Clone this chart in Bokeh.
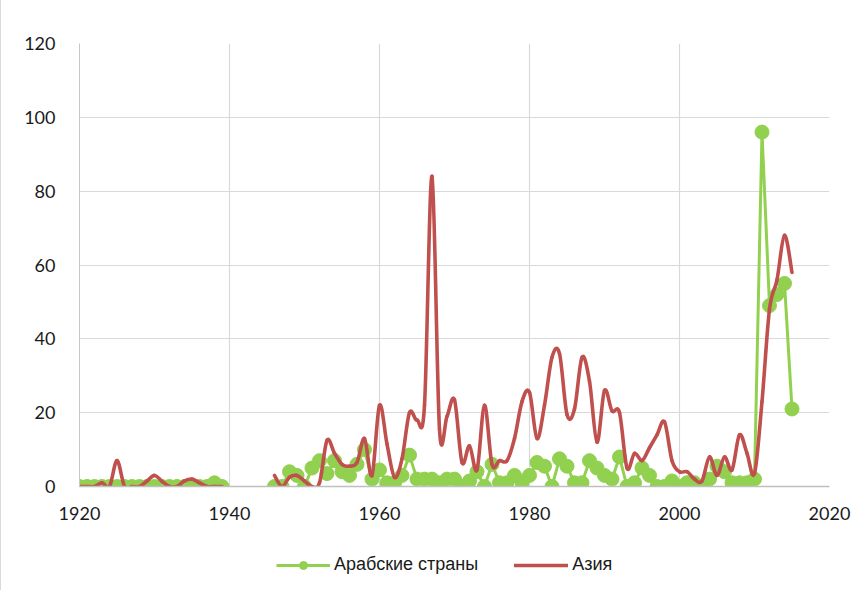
import numpy as np
from bokeh.plotting import figure
from bokeh.layouts import column
from bokeh.models import Legend, LegendItem, FixedTicker, Range1d
from bokeh.embed import file_html
from bokeh.resources import INLINE

# ---- data ----
years_early = list(range(1920, 1940))
years_late = list(range(1946, 2016))

arab_early = [0, 0, 0, 0, 0, 0, 0, 0, 0, 0,
              0, 0, 0, 0, 0, 0, 0, 0, 1, 0]
asia_early = [0, 0, 0, 1, 0, 7, 0, 0, 0, 1.5,
              3, 1.4, 0, 0, 1.5, 2, 1, 0, 0, 0]

arab_late = [0, 0, 4, 3, 0, 5, 7, 3.5, 7, 4,          # 1946-1955
             3, 6, 10, 2, 4.5, 1, 1, 3, 8.5, 2,        # 1956-1965
             2, 2, 1, 2, 2, 0, 1.5, 4, 0, 6,           # 1966-1975
             1, 1, 3, 1, 3, 6.5, 5.5, 0, 7.5, 5.5,     # 1976-1985
             1, 1, 7, 5, 3, 2, 8, 0, 1, 5,             # 1986-1995
             3, 0, 0, 1.5, 0, 1, 1, 0, 2, 5.5,         # 1996-2005
             4, 1, 1, 1, 2, 96, 49, 52, 55, 21]        # 2006-2015
asia_late = [3, 0, 2.5, 3, 1.5, 0, 1, 12.5, 9, 6,      # 1946-1955
             5.5, 6.5, 13, 3, 22, 11.5, 2.5, 7.5, 20, 18,   # 1956-1965
             22, 84, 15.5, 19, 23.5, 6.5, 11, 4.5, 22, 6,   # 1966-1975
             7, 7, 13, 23, 25.5, 13, 22, 35, 36, 19.5,      # 1976-1985
             21, 35, 28.5, 12, 26, 20.5, 20, 5, 9, 7,       # 1986-1995
             10.5, 14, 17.5, 7, 4, 4, 2, 1.5, 8, 3,         # 1996-2005
             8, 4.5, 14, 9, 3.5, 23, 48, 56, 68, 58]        # 2006-2015

x_ticks = [1920, 1940, 1960, 1980, 2000, 2020]
y_ticks = [0, 20, 40, 60, 80, 100, 120]

GREEN = "#92d050"
RED = "#c0504d"
TICK_FONT = "Lato"


def smooth_segments(xs, ys):
    """Cubic Bezier control points (Catmull-Rom style) from the data points."""
    x = np.asarray(xs, float)
    y = np.asarray(ys, float)
    xp = np.concatenate([[x[0]], x, [x[-1]]])
    yp = np.concatenate([[y[0]], y, [y[-1]]])
    n = len(x)
    return dict(
        x0=xp[1:n], y0=yp[1:n],
        x1=xp[2:n + 1], y1=yp[2:n + 1],
        cx0=xp[1:n] + (xp[2:n + 1] - xp[0:n - 1]) / 6.0,
        cy0=yp[1:n] + (yp[2:n + 1] - yp[0:n - 1]) / 6.0,
        cx1=xp[2:n + 1] - (xp[3:n + 2] - xp[1:n]) / 6.0,
        cy1=yp[2:n + 1] - (yp[3:n + 2] - yp[1:n]) / 6.0,
    )


def draw_series(fig):
    arab = []
    for xs, ys in ((years_early, arab_early), (years_late, arab_late)):
        ln = fig.line(xs, ys, line_color=GREEN, line_width=3)
        sc = fig.scatter(xs, ys, size=14, fill_color=GREEN, line_color=GREEN)
        arab += [ln, sc]
    asia = []
    for xs, ys in ((years_early, asia_early), (years_late, asia_late)):
        seg = smooth_segments(xs, ys)
        asia.append(fig.bezier(line_color=RED, line_width=3.6,
                               line_cap="round", **seg))
    return arab, asia


# ---- main chart ----
p = figure(width=856, height=531, output_backend="svg", toolbar_location=None,
           x_range=Range1d(1920, 2020), y_range=Range1d(0, 120),
           min_border_left=78, min_border_right=28, min_border_top=43,
           min_border_bottom=45)
p.outline_line_color = None

p.xaxis.ticker = FixedTicker(ticks=x_ticks)
p.yaxis.ticker = FixedTicker(ticks=y_ticks)
for ax in (p.xaxis, p.yaxis):
    ax.major_tick_line_color = None
    ax.minor_tick_line_color = None
    ax.major_label_text_font = TICK_FONT
    ax.major_label_text_font_size = "18px"
    ax.major_label_text_color = "#1a1a1a"
p.xaxis.axis_line_color = "#bfbfbf"
p.xaxis.axis_line_width = 1.5
p.yaxis.axis_line_color = "#c8c8c8"
p.xaxis.major_label_standoff = 14
p.yaxis.major_label_standoff = 18
p.grid.grid_line_color = "#d9d9d9"
p.grid.grid_line_width = 1.2

draw_series(p)

# ---- legend strip (series drawn outside its visible range; only legend shows) ----
lg = figure(width=856, height=59, output_backend="svg", toolbar_location=None,
            x_range=Range1d(0, 1), y_range=Range1d(0, 1),
            x_axis_location=None, y_axis_location=None,
            min_border_left=0, min_border_right=0, min_border_top=0,
            min_border_bottom=0)
lg.outline_line_color = None
lg.grid.visible = False
arab_r, asia_r = draw_series(lg)

legend = Legend(
    items=[LegendItem(label="Арабские страны", renderers=arab_r[:2]),
           LegendItem(label="Азия", renderers=[asia_r[1]])],
    orientation="horizontal", location=(197, 15),
    border_line_color=None, background_fill_alpha=0,
    label_text_font="Liberation Sans", label_text_font_size="18px",
    label_text_color="#1a1a1a",
    glyph_width=54, glyph_height=20, label_standoff=4, spacing=36,
    padding=0, margin=0,
)
lg.add_layout(legend, "center")

layout = column(p, lg, spacing=0)
layout.styles = {"border-left": "1px solid #d9d9d9"}
open("out.html", "w").write(file_html(layout, INLINE))
